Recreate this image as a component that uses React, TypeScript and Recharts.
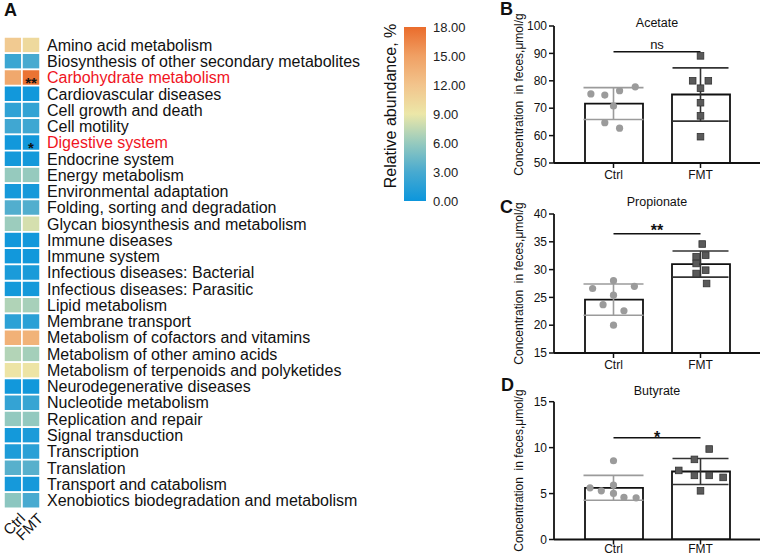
import React from 'react';
import {
  ComposedChart,
  BarChart,
  Bar,
  XAxis,
  YAxis,
  Scatter,
  ErrorBar,
  ReferenceLine,
  Cell,
  LabelList,
} from 'recharts';

const FONT = '"Liberation Sans", Arial, Helvetica, sans-serif';

// ---------- Panel A data ----------
const pathways = [
  'Amino acid metabolism',
  'Biosynthesis of other secondary metabolites',
  'Carbohydrate metabolism',
  'Cardiovascular diseases',
  'Cell growth and death',
  'Cell motility',
  'Digestive system',
  'Endocrine system',
  'Energy metabolism',
  'Environmental adaptation',
  'Folding, sorting and degradation',
  'Glycan biosynthesis and metabolism',
  'Immune diseases',
  'Immune system',
  'Infectious diseases: Bacterial',
  'Infectious diseases: Parasitic',
  'Lipid metabolism',
  'Membrane transport',
  'Metabolism of cofactors and vitamins',
  'Metabolism of other amino acids',
  'Metabolism of terpenoids and polyketides',
  'Neurodegenerative diseases',
  'Nucleotide metabolism',
  'Replication and repair',
  'Signal transduction',
  'Transcription',
  'Translation',
  'Transport and catabolism',
  'Xenobiotics biodegradation and metabolism',
];
const ctrlAbundance = [11.5, 2.4, 14.3, 0.3, 1.8, 2.6, 0.3, 0.4, 6.0, 0.5, 3.4, 6.2, 0.3, 0.3, 0.7, 0.4, 6.9, 1.6, 13.6, 7.0, 9.3, 0.3, 2.0, 5.9, 0.4, 0.9, 3.6, 0.5, 5.6];
const fmtAbundance = [10.2, 3.0, 17.6, 0.3, 1.9, 2.5, 0.3, 0.4, 6.0, 0.5, 3.4, 8.2, 0.3, 0.3, 0.7, 0.4, 6.6, 1.5, 13.4, 6.5, 9.3, 0.3, 2.2, 5.9, 0.8, 1.5, 3.6, 0.5, 3.0];
const fmtSignificance = ['', '', '**', '', '', '', '*', '', '', '', '', '', '', '', '', '', '', '', '', '', '', '', '', '', '', '', '', '', ''];
const redPathways = ['Carbohydrate metabolism', 'Digestive system'];
const groups = ['Ctrl', 'FMT'];
const colorbarTicks = [0, 3, 6, 9, 12, 15, 18];

// ---------- Panels B-D data ----------
const acetateMean = [71.7, 75.0];
const acetateSd = [5.8, 9.7];
const acetateCtrl = [
  { x: 0.74, y: 75.2 }, { x: 0.9, y: 74.8 }, { x: 1.07, y: 76.4 }, { x: 1.25, y: 77.8 },
  { x: 1.0, y: 70.8 }, { x: 0.9, y: 64.7 }, { x: 1.07, y: 62.7 },
];
const acetateFmt = [
  { x: 2.0, y: 89.1 }, { x: 1.91, y: 80.0 }, { x: 2.09, y: 80.0 }, { x: 2.0, y: 77.3 },
  { x: 2.0, y: 72.0 }, { x: 2.0, y: 67.2 }, { x: 2.0, y: 59.6 },
];

const propionateMean = [24.6, 31.0];
const propionateSd = [2.8, 2.35];
const propionateCtrl = [
  { x: 0.76, y: 26.6 }, { x: 1.0, y: 28.0 }, { x: 1.24, y: 27.0 }, { x: 1.0, y: 25.4 },
  { x: 0.88, y: 23.7 }, { x: 1.12, y: 22.6 }, { x: 1.0, y: 20.0 },
];
const propionateFmt = [
  { x: 2.02, y: 34.6 }, { x: 1.95, y: 32.3 }, { x: 2.06, y: 32.6 }, { x: 1.95, y: 31.1 },
  { x: 2.06, y: 29.9 }, { x: 1.95, y: 29.3 }, { x: 2.07, y: 27.5 },
];

const butyrateMean = [5.63, 7.4];
const butyrateSd = [1.35, 1.42];
const butyrateCtrl = [
  { x: 1.0, y: 8.57 }, { x: 0.73, y: 5.63 }, { x: 0.86, y: 5.3 }, { x: 1.0, y: 5.92 },
  { x: 1.0, y: 5.02 }, { x: 1.12, y: 4.58 }, { x: 1.26, y: 4.54 },
];
const butyrateFmt = [
  { x: 2.1, y: 9.85 }, { x: 1.93, y: 8.72 }, { x: 1.75, y: 7.52 }, { x: 1.93, y: 6.98 },
  { x: 2.1, y: 6.98 }, { x: 2.26, y: 6.76 }, { x: 2.0, y: 5.3 },
];

// ---------- colour scale ----------
const COLOR_STOPS: [number, number[]][] = [
  [0, [12, 150, 220]],
  [3, [72, 170, 208]],
  [6, [150, 202, 190]],
  [9, [236, 231, 168]],
  [12, [242, 196, 140]],
  [15, [240, 160, 100]],
  [18, [234, 108, 44]],
];
const toHex = (c: number[]) => '#' + c.map((v) => Math.round(v).toString(16).padStart(2, '0')).join('');
function colorFor(v: number): string {
  for (let i = 0; i < COLOR_STOPS.length - 1; i++) {
    const [a, ca] = COLOR_STOPS[i];
    const [b, cb] = COLOR_STOPS[i + 1];
    if (v <= b) {
      const t = Math.max(0, (v - a) / (b - a));
      return toHex(ca.map((c, k) => c + (cb[k] - c) * t));
    }
  }
  return toHex(COLOR_STOPS[COLOR_STOPS.length - 1][1]);
}

const heatData = pathways.map((name, i) => ({
  name,
  c: 1,
  f: 1,
  cv: ctrlAbundance[i],
  fv: fmtAbundance[i],
  sig: fmtSignificance[i],
}));

const HeatYTick = (props: any) => {
  const { x, y, payload } = props;
  const red = redPathways.includes(payload.value);
  return (
    <text x={x} y={y} dy="0.355em" textAnchor="start" fontSize={16} fontFamily={FONT} fill={red ? '#f0141e' : '#111'}>
      {payload.value}
    </text>
  );
};

const HeatXTick = (props: any) => {
  const { x, y, payload } = props;
  const label = groups[Math.round(payload.value - 0.5)];
  const ex = x + 13;
  const ey = y + 11;
  return (
    <text x={ex} y={ey} transform={`rotate(-45 ${ex} ${ey})`} textAnchor="end" fontSize={15} fontFamily={FONT} fill="#111">
      {label}
    </text>
  );
};

const SigCellLabel = (props: any) => {
  const { x, y, width, height, value } = props;
  if (!value) return null;
  return (
    <text x={x + width / 2} y={y + height / 2 + 10} textAnchor="middle" fontSize={15} fontWeight="bold" fontFamily={FONT} fill="#111">
      {value}
    </text>
  );
};

function Heatmap() {
  return (
    <BarChart
      layout="vertical"
      width={380}
      height={555}
      data={heatData}
      margin={{ top: 37, right: 0, left: 4, bottom: 5.5 }}
      barCategoryGap={0}
    >
      <XAxis
        type="number"
        domain={[0, 2]}
        ticks={[0.5, 1.5]}
        interval={0}
        axisLine={false}
        tickLine={false}
        tickSize={0}
        tickMargin={0}
        height={41}
        tick={HeatXTick}
      />
      <YAxis
        type="category"
        dataKey="name"
        orientation="right"
        width={340}
        interval={0}
        axisLine={false}
        tickLine={false}
        tickSize={5}
        tickMargin={2}
        tick={HeatYTick}
      />
      <Bar dataKey="c" stackId="s" stroke="#fff" strokeWidth={1.5} isAnimationActive={false}>
        {heatData.map((d, i) => (
          <Cell key={i} fill={colorFor(d.cv)} />
        ))}
      </Bar>
      <Bar dataKey="f" stackId="s" stroke="#fff" strokeWidth={1.5} isAnimationActive={false}>
        {heatData.map((d, i) => (
          <Cell key={i} fill={colorFor(d.fv)} />
        ))}
        <LabelList dataKey="sig" content={SigCellLabel} />
      </Bar>
    </BarChart>
  );
}

const ColorbarTitle = (props: any) => {
  const vb = props.viewBox || { x: 0, y: 0, width: 0, height: 0 };
  const x = vb.x + 10;
  const y = 106;
  return (
    <text x={x} y={y} transform={`rotate(-90 ${x} ${y})`} textAnchor="middle" dominantBaseline="central" fontSize={16} fontFamily={FONT} fill="#111">
      Relative abundance, %
    </text>
  );
};

function Colorbar() {
  return (
    <BarChart width={110} height={230} data={[{ name: 'scale', v: colorbarTicks[colorbarTicks.length - 1] }]} margin={{ top: 27, right: 0, left: 0, bottom: 29 }} barCategoryGap={0}>
      <defs>
        <linearGradient id="cbGrad" x1="0" y1="1" x2="0" y2="0">
          {COLOR_STOPS.map(([v, c]) => (
            <stop key={v} offset={v / 18} stopColor={toHex(c)} />
          ))}
        </linearGradient>
      </defs>
      <XAxis dataKey="name" hide />
      <YAxis yAxisId="l" orientation="left" width={24} type="number" domain={[0, 18]} tick={false} axisLine={false} tickLine={false} label={{ content: ColorbarTitle }} />
      <YAxis
        yAxisId="r"
        orientation="right"
        width={64}
        type="number"
        domain={[0, 18]}
        ticks={colorbarTicks}
        interval={0}
        axisLine={false}
        tickLine={false}
        tickSize={5}
        tickMargin={2}
        tickFormatter={(v: number) => v.toFixed(2)}
        tick={{ fontSize: 13, fill: '#222', fontFamily: FONT }}
      />
      <Bar yAxisId="r" dataKey="v" fill="url(#cbGrad)" isAnimationActive={false} />
    </BarChart>
  );
}

const YTitle = (props: any) => {
  const vb = props.viewBox || { x: 0, y: 0, width: 0, height: 0 };
  const x = vb.x + 49;
  const y = vb.y + vb.height / 2;
  return (
    <text x={x} y={y} transform={`rotate(-90 ${x} ${y})`} textAnchor="middle" dominantBaseline="central" fontSize={12} fontFamily={FONT} fill="#111" style={{ whiteSpace: 'pre' }}>
      {'Concentration  in feces,\u03bcmol/g'}
    </text>
  );
};

const circleShape = (p: any) => <circle cx={p.cx} cy={p.cy} r={3.6} fill="#9b9b9b" />;
const squareShape = (p: any) => (
  <rect x={p.cx - 3.3} y={p.cy - 3.3} width={6.6} height={6.6} fill="#5a5a5a" stroke="#333" strokeWidth={0.8} />
);
const noShape = () => <g />;

function makeSigLabel(text: string, dy: number, size: number, bold: boolean) {
  return (props: any) => {
    const vb = props.viewBox || { x: 0, y: 0, width: 0, height: 0 };
    return (
      <text x={vb.x + (vb.width || 0) / 2} y={vb.y + dy} textAnchor="middle" fontSize={size} fontWeight={bold ? 'bold' : 'normal'} fontFamily={FONT} fill="#111">
        {text}
      </text>
    );
  };
}

type PanelProps = {
  height: number;
  marginTop: number;
  marginBottom: number;
  xAxisHeight: number;
  xTickMargin: number;
  domain: [number, number];
  ticks: number[];
  means: number[];
  sds: number[];
  ctrlPts: { x: number; y: number }[];
  fmtPts: { x: number; y: number }[];
  sigY: number;
  sigText: string;
  sigDy: number;
  sigSize: number;
  sigBold: boolean;
};

function SCFAPanel(p: PanelProps) {
  const data = groups.map((g, i) => ({ name: g, mean: p.means[i] }));
  return (
    <ComposedChart width={293} height={p.height} data={data} margin={{ top: p.marginTop, right: 3, left: 0, bottom: p.marginBottom }}>
      <XAxis
        xAxisId="c"
        dataKey="name"
        type="category"
        padding={{ left: 16, right: 16 }}
        height={p.xAxisHeight}
        tickSize={5}
        tickMargin={p.xTickMargin}
        tickLine={{ stroke: '#111', strokeWidth: 1.5 }}
        axisLine={{ stroke: '#111', strokeWidth: 1.8 }}
        tick={{ fontSize: 12, fill: '#111', fontFamily: FONT }}
      />
      <XAxis xAxisId="n" dataKey="x" type="number" domain={[0.5, 2.5]} padding={{ left: 16, right: 16 }} allowDataOverflow hide />
      <YAxis
        type="number"
        domain={p.domain}
        ticks={p.ticks}
        interval={0}
        allowDataOverflow
        width={84}
        tickSize={5}
        tickMargin={2}
        tickLine={{ stroke: '#111', strokeWidth: 1.5 }}
        axisLine={{ stroke: '#111', strokeWidth: 1.8 }}
        tick={{ fontSize: 12, fill: '#111', fontFamily: FONT }}
        label={{ content: YTitle }}
      />
      <Bar xAxisId="c" dataKey="mean" barSize={58} fill="#fff" stroke="#111" strokeWidth={1.8} isAnimationActive={false} />
      <Scatter xAxisId="n" data={[{ x: 1, y: p.means[0], sd: p.sds[0] }]} dataKey="y" shape={noShape} isAnimationActive={false}>
        <ErrorBar dataKey="sd" direction="y" width={30} stroke="#9b9b9b" strokeWidth={1.6} isAnimationActive={false} />
      </Scatter>
      <Scatter xAxisId="n" data={[{ x: 2, y: p.means[1], sd: p.sds[1] }]} dataKey="y" shape={noShape} isAnimationActive={false}>
        <ErrorBar dataKey="sd" direction="y" width={28} stroke="#333" strokeWidth={1.6} isAnimationActive={false} />
      </Scatter>
      <Scatter xAxisId="n" data={p.ctrlPts} dataKey="y" shape={circleShape} isAnimationActive={false} />
      <Scatter xAxisId="n" data={p.fmtPts} dataKey="y" shape={squareShape} isAnimationActive={false} />
      <ReferenceLine
        xAxisId="n"
        segment={[{ x: 1, y: p.sigY }, { x: 2, y: p.sigY }]}
        stroke="#111"
        strokeWidth={1.5}
        ifOverflow="visible"
        label={{ content: makeSigLabel(p.sigText, p.sigDy, p.sigSize, p.sigBold) }}
      />
    </ComposedChart>
  );
}

const abs = (left: number, top: number): React.CSSProperties => ({ position: 'absolute', left, top });

export default function App() {
  return (
    <div style={{ position: 'absolute', left: 0, top: 0, width: 763, height: 555, background: '#fff', overflow: 'hidden', fontFamily: FONT }}>
      <div style={abs(0, 0)}>
        <Heatmap />
      </div>
      <div style={abs(380, 0)}>
        <Colorbar />
      </div>
      <div style={abs(470, 0)}>
        <SCFAPanel
          height={190}
          marginTop={26}
          marginBottom={5}
          xAxisHeight={22}
          xTickMargin={2}
          domain={[50, 100]}
          ticks={[50, 60, 70, 80, 90, 100]}
          means={acetateMean}
          sds={acetateSd}
          ctrlPts={acetateCtrl}
          fmtPts={acetateFmt}
          sigY={90.6}
          sigText="ns"
          sigDy={-2.5}
          sigSize={13}
          sigBold={false}
        />
      </div>
      <div style={abs(470, 190)}>
        <SCFAPanel
          height={190}
          marginTop={24}
          marginBottom={5}
          xAxisHeight={22}
          xTickMargin={2}
          domain={[15, 40]}
          ticks={[15, 20, 25, 30, 35, 40]}
          means={propionateMean}
          sds={propionateSd}
          ctrlPts={propionateCtrl}
          fmtPts={propionateFmt}
          sigY={36.46}
          sigText="**"
          sigDy={2.5}
          sigSize={16}
          sigBold
        />
      </div>
      <div style={abs(470, 370)}>
        <SCFAPanel
          height={185}
          marginTop={31.7}
          marginBottom={1.5}
          xAxisHeight={14}
          xTickMargin={0}
          domain={[0, 15]}
          ticks={[0, 5, 10, 15]}
          means={butyrateMean}
          sds={butyrateSd}
          ctrlPts={butyrateCtrl}
          fmtPts={butyrateFmt}
          sigY={11.08}
          sigText="*"
          sigDy={5}
          sigSize={16}
          sigBold
        />
      </div>
      <svg width={763} height={555} style={{ position: 'absolute', left: 0, top: 0, pointerEvents: 'none' }}>
        <g fontFamily={FONT} fill="#111">
          <text x={4} y={16} fontSize={18} fontWeight="bold">A</text>
          <text x={500} y={15} fontSize={18} fontWeight="bold">B</text>
          <text x={500} y={213} fontSize={18} fontWeight="bold">C</text>
          <text x={501} y={391} fontSize={18} fontWeight="bold">D</text>
          <text x={657} y={26.5} fontSize={12.5} textAnchor="middle">Acetate</text>
          <text x={657} y={205.5} fontSize={12.5} textAnchor="middle">Propionate</text>
          <text x={657} y={394.5} fontSize={12.5} textAnchor="middle">Butyrate</text>
        </g>
      </svg>
    </div>
  );
}
